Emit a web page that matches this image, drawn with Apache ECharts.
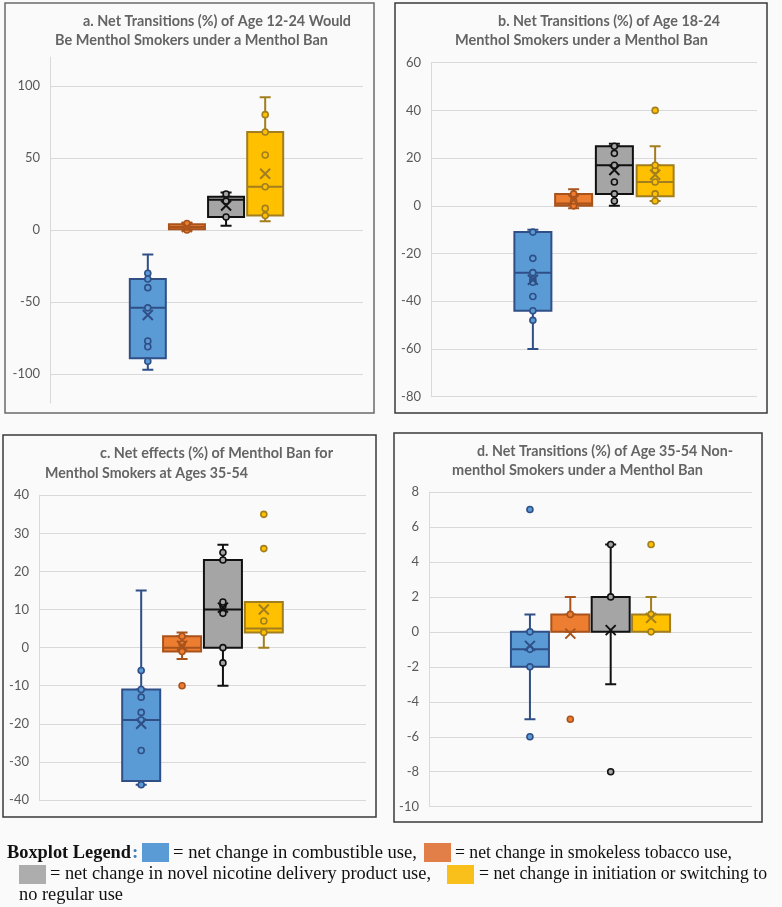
<!DOCTYPE html>
<html>
<head>
<meta charset="utf-8">
<script src="https://cdn.jsdelivr.net/npm/echarts@6/dist/echarts.min.js"></script>
<style>
html,body{margin:0;padding:0;background:#fafafa;}
#chart{width:782px;height:907px;}
</style>
</head>
<body>
<div id="chart"></div>
<script>
// ---------------- DATA ----------------
const categories = ['combustible use', 'smokeless tobacco use', 'novel nicotine delivery product use', 'initiation or switching to no regular use'];

// Panel a
const titleA = ['a. Net Transitions (%) of Age 12-24 Would', 'Be Menthol Smokers under a Menthol Ban'];
const yTicksA = [-100, -50, 0, 50, 100];
const lowA = [-97, 0, 3, 6];
const q1A = [-89, 0.5, 9, 10];
const medA = [-54, 2, 21, 30];
const q3A = [-34, 4, 23, 68];
const highA = [-17, 5, 26, 92];
const meanA = [-59, 2, 17, 39];
const ptsA = [
  [-30, -34, -40, -54, -77, -81, -91],
  [0, 2, 4.5],
  [9, 20, 25],
  [10, 15, 30, 52, 68, 80]
];

// Panel b
const titleB = ['b. Net Transitions (%) of Age 18-24', 'Menthol Smokers under a Menthol Ban'];
const yTicksB = [-80, -60, -40, -20, 0, 20, 40, 60];
const lowB = [-60, -1, 0, 2];
const q1B = [-44, 0, 5, 4];
const medB = [-28, 1, 17, 10];
const q3B = [-11, 5, 25, 17];
const highB = [-10, 7, 26, 25];
const meanB = [-31, 2.5, 15, 13];
const ptsB = [
  [-11, -22, -28, -31, -32, -38, -44, -48],
  [0, 2, 5],
  [2, 5, 10, 17, 22, 25],
  [2, 5, 10, 15, 17, 40]
];

// Panel c
const titleC = ['c. Net effects (%) of Menthol Ban for', 'Menthol Smokers at Ages 35-54'];
const yTicksC = [-40, -30, -20, -10, 0, 10, 20, 30, 40];
const lowC = [-36, -3, -10, 0];
const q1C = [-35, -1, 0, 4];
const medC = [-19, 0, 10, 5];
const q3C = [-11, 3, 23, 12];
const highC = [15, 4, 27, 12];
const meanC = [-20, 0.5, 10.5, 10];
const ptsC = [
  [-6, -11, -13, -17, -19, -27, -36],
  [-10, -1, 1, 3],
  [-4, 0, 9, 11, 12, 23, 25],
  [4, 7, 26, 35]
];

// Panel d
const titleD = ['d. Net Transitions (%) of Age 35-54 Non-', 'menthol Smokers under a Menthol Ban'];
const yTicksD = [-10, -8, -6, -4, -2, 0, 2, 4, 6, 8];
const lowD = [-5, 0, -3, 0];
const q1D = [-2, 0, 0, 0];
const medD = [-1, 0, 0, 0];
const q3D = [0, 1, 2, 1];
const highD = [1, 2, 5, 2];
const meanD = [-0.8, -0.1, 0.1, 0.8];
const ptsD = [
  [-6, -2, -1, 0, 7],
  [-5, 1],
  [-8, 2, 5],
  [0, 1, 5]
];

const legendLabel = 'Boxplot Legend';
const legendTexts = [
  '= net change in combustible use,',
  '= net change in smokeless tobacco use,',
  '= net change in novel nicotine delivery product use,',
  '= net change in initiation or switching to',
  'no regular use'
];

// ---------------- STYLE / LAYOUT ----------------
const fills = ['#5B9BD5', '#ED7D31', '#A5A5A5', '#FFC000'];
const lines = ['#2F4F86', '#A9531C', '#111111', '#A27E1E'];
const gridColor = '#D9D9D9';
const labelColor = '#595959';
const titleColor = '#646464';
const OFF = 2;
const SLOTS = 8;

const measureCtx = document.createElement('canvas').getContext('2d');
function fitScale(text, font, targetW) {
  measureCtx.font = font;
  const w = measureCtx.measureText(text).width;
  return w > 0 ? targetW / w : 1;
}

const panels = [
  {title: titleA, ticks: yTicksA, low: lowA, q1: q1A, med: medA, q3: q3A, high: highA, mean: meanA, pts: ptsA,
   min: -120, max: 120, grid: {left: 50, top: 57, width: 313, height: 346}, boxW: 36,
   frame: [5, 3, 369, 410], frameColor: '#6a6a6a', titlePos: [[83, 21, 268], [55, 40.5, 273]]},
  {title: titleB, ticks: yTicksB, low: lowB, q1: q1B, med: medB, q3: q3B, high: highB, mean: meanB, pts: ptsB,
   min: -80, max: 60, grid: {left: 431, top: 62.7, width: 326, height: 334}, boxW: 37,
   frame: [395, 3, 372, 410], frameColor: '#3a3a3a', titlePos: [[498, 21, 222], [455, 40.5, 253]]},
  {title: titleC, ticks: yTicksC, low: lowC, q1: q1C, med: medC, q3: q3C, high: highC, mean: meanC, pts: ptsC,
   min: -40, max: 40, grid: {left: 39, top: 495.3, width: 327, height: 304.7}, boxW: 38,
   frame: [3, 435, 373, 382], frameColor: '#3a3a3a', titlePos: [[100, 453.5, 233], [45, 473, 203]]},
  {title: titleD, ticks: yTicksD, low: lowD, q1: q1D, med: medD, q3: q3D, high: highD, mean: meanD, pts: ptsD,
   min: -10, max: 8, grid: {left: 429, top: 492, width: 323, height: 314.7}, boxW: 38,
   frame: [394, 433, 368, 389], frameColor: '#3a3a3a', titlePos: [[477, 451, 256], [452, 470.5, 251]]}
];

const slotNames = ['', ' '].concat(categories).concat(['  ', '   ']);
const grid = [], xAxis = [], yAxis = [], series = [], graphic = [];
const titleFont = 'bold 15px Lato';

panels.forEach(function (p, k) {
  grid.push(Object.assign({containLabel: false}, p.grid));
  for (let j = 0; j < 2; j++) {
    xAxis.push({type: 'category', gridIndex: k, data: slotNames, show: false, boundaryGap: true});
  }
  yAxis.push({
    type: 'value', gridIndex: k, min: p.min, max: p.max,
    axisLine: {show: true, lineStyle: {color: gridColor, width: 1}},
    axisTick: {show: false, customValues: p.ticks},
    axisLabel: {customValues: p.ticks, color: labelColor, fontSize: 13, fontFamily: 'Lato', margin: 10},
    splitLine: {show: true, lineStyle: {color: gridColor, width: 1}}
  });

  const whiskerData = [], boxData = [];
  for (let s = 0; s < SLOTS; s++) {
    const i = s - OFF;
    if (i >= 0 && i < 4) {
      whiskerData.push({value: [p.low[i], p.q3[i], p.q3[i], p.q3[i], p.high[i]],
        itemStyle: {color: 'transparent', borderColor: lines[i]}});
      boxData.push({value: [p.q1[i], p.q1[i], p.med[i], p.q3[i], p.q3[i]],
        itemStyle: {color: fills[i], borderColor: lines[i]}});
    } else {
      whiskerData.push([null, null, null, null, null]);
      boxData.push([null, null, null, null, null]);
    }
  }
  series.push({
    type: 'boxplot', xAxisIndex: 2 * k + 1, yAxisIndex: k, z: 2,
    boxWidth: [11, 11], data: whiskerData,
    itemStyle: {borderWidth: 2}, emphasis: {disabled: true}, silent: true
  });
  series.push({
    type: 'boxplot', xAxisIndex: 2 * k, yAxisIndex: k, z: 3,
    boxWidth: [p.boxW, p.boxW], data: boxData,
    itemStyle: {borderWidth: 2}, emphasis: {disabled: true}, silent: true
  });

  const ptData = [];
  p.pts.forEach(function (arr, i) {
    arr.forEach(function (v) {
      ptData.push({value: [OFF + i, v], itemStyle: {color: fills[i], borderColor: lines[i]}});
    });
  });
  series.push({
    type: 'scatter', xAxisIndex: 2 * k, yAxisIndex: k, z: 4,
    symbol: 'circle', symbolSize: 6, data: ptData,
    itemStyle: {borderWidth: 1.6, opacity: 1}, emphasis: {disabled: true}, silent: true
  });
  series.push({
    type: 'scatter', xAxisIndex: 2 * k, yAxisIndex: k, z: 5,
    symbol: 'path://M0,0L10,10M10,0L0,10', symbolSize: 10,
    data: p.mean.map(function (v, i) { return {value: [OFF + i, v], itemStyle: {borderColor: lines[i]}}; }),
    itemStyle: {color: 'transparent', borderWidth: 2, opacity: 1}, emphasis: {disabled: true}, silent: true
  });

  graphic.push({type: 'rect', silent: true, z: 10,
    shape: {x: p.frame[0], y: p.frame[1], width: p.frame[2], height: p.frame[3]},
    style: {fill: 'none', stroke: p.frameColor, lineWidth: 1.5}});
  p.title.forEach(function (t, j) {
    const pos = p.titlePos[j];
    graphic.push({type: 'text', silent: true, z: 10, x: pos[0], y: pos[1],
      scaleX: fitScale(t, titleFont, pos[2]),
      style: {text: t, fill: titleColor, font: titleFont, textAlign: 'left', textVerticalAlign: 'middle'}});
  });
});

// legend
const legFont = '19px "Liberation Serif"';
const legBold = 'bold 19px "Liberation Serif"';
const legRows = [853, 874, 895];
function legText(x, y, text, font, color, targetW) {
  const f = font || legFont;
  graphic.push({type: 'text', silent: true, x: x, y: y,
    scaleX: targetW ? fitScale(text, f, targetW) : 1,
    style: {text: text, fill: color || '#111', font: f, textAlign: 'left', textVerticalAlign: 'middle'}});
}
function legRect(x, y, c) {
  graphic.push({type: 'rect', silent: true, shape: {x: x, y: y, width: 27, height: 19}, style: {fill: c}});
}
legText(7, legRows[0], legendLabel, legBold, '#111', 124);
legText(132, legRows[0], ':', legBold, '#3F7FBF');
legRect(142, 843, fills[0]);
legText(173, legRows[0], legendTexts[0], legFont, '#111', 244);
legRect(424, 843, '#E27F48');
legText(455, legRows[0], legendTexts[1], legFont, '#111', 277);
legRect(19, 865, '#ADADAD');
legText(50, legRows[1], legendTexts[2], legFont, '#111', 381);
legRect(447, 865, '#F9BF1A');
legText(479, legRows[1], legendTexts[3], legFont, '#111', 288);
legText(19, legRows[2], legendTexts[4], legFont, '#111', 104);

const chart = echarts.init(document.getElementById('chart'), null, {renderer: 'canvas'});
chart.setOption({
  animation: false,
  backgroundColor: '#fafafa',
  grid: grid, xAxis: xAxis, yAxis: yAxis, series: series, graphic: graphic
});
</script>
</body>
</html>
